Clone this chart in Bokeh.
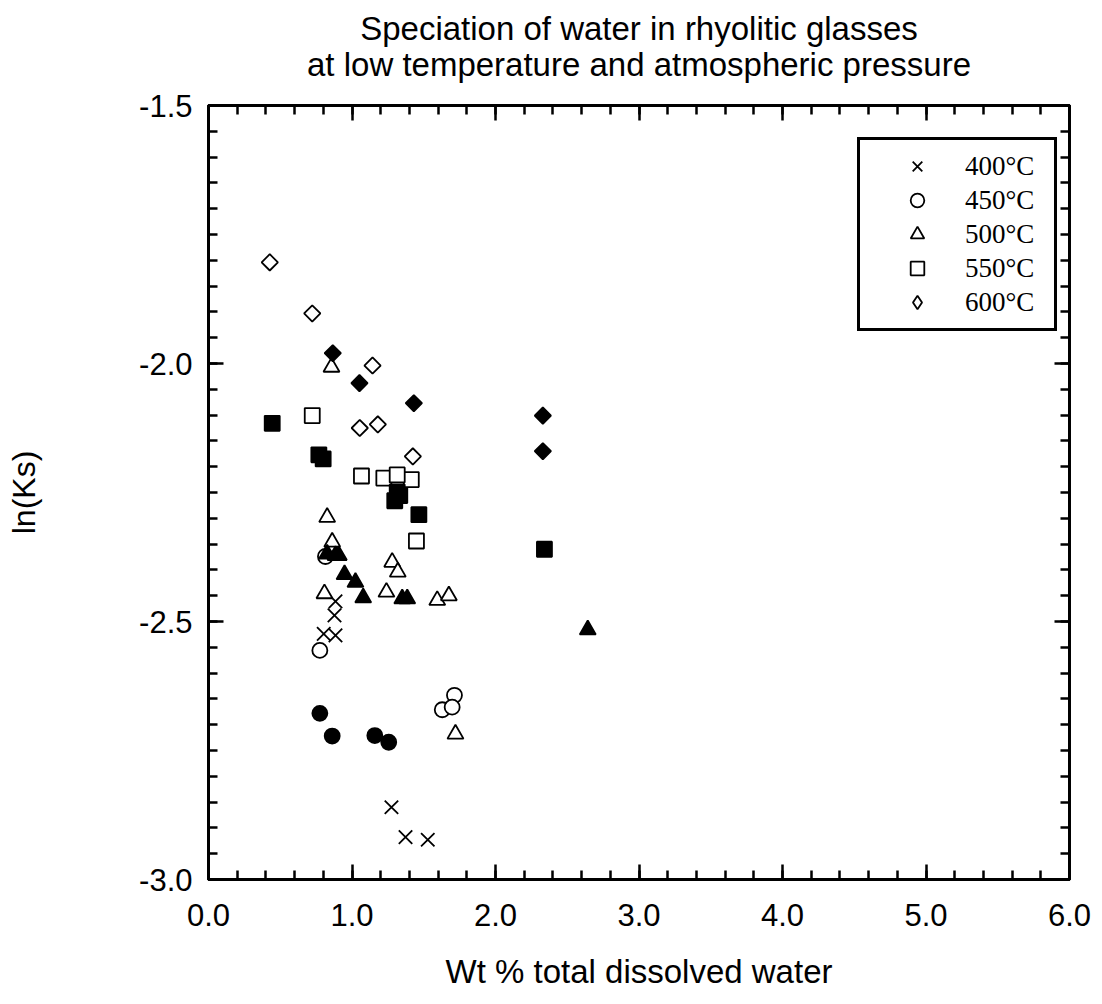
import numpy as np
from bokeh.plotting import figure
from bokeh.models import (Range1d, FixedTicker, LinearAxis, Title, Legend,
                          LegendItem, NumeralTickFormatter, CustomJSTickFormatter)
from bokeh.embed import file_html
from bokeh.resources import INLINE

# ---------------- data (wt% total water, ln(Ks)) ----------------
x_400 = [0.885, 0.878, 0.803, 0.885, 1.275, 1.373, 1.528]
y_400 = [-2.461, -2.488, -2.524, -2.527, -2.860, -2.918, -2.923]

x_450_open = [0.815, 0.776, 1.714, 1.629, 1.698]
y_450_open = [-2.374, -2.556, -2.643, -2.671, -2.666]
x_450_fill = [0.776, 0.862, 1.159, 1.256]
y_450_fill = [-2.678, -2.722, -2.721, -2.734]

x_500_open = [0.857, 0.827, 0.862, 1.280, 1.319, 0.808, 1.240, 1.594, 1.675, 1.721]
y_500_open = [-2.007, -2.298, -2.346, -2.385, -2.404, -2.446, -2.443, -2.459, -2.450, -2.718]
x_500_fill = [0.827, 0.885, 0.908, 0.948, 1.024, 1.078, 1.350, 1.385, 2.643]
y_500_fill = [-2.369, -2.372, -2.372, -2.409, -2.424, -2.454, -2.456, -2.456, -2.516]

x_550_open = [0.723, 1.066, 1.222, 1.413, 1.315, 1.449]
y_550_open = [-2.101, -2.218, -2.222, -2.225, -2.216, -2.344]
x_550_fill = [0.444, 0.769, 0.799, 1.315, 1.298, 1.333, 1.466, 2.341]
y_550_fill = [-2.116, -2.177, -2.185, -2.249, -2.266, -2.256, -2.293, -2.360]

x_600_open = [0.427, 0.723, 1.143, 1.054, 1.180, 1.424]
y_600_open = [-1.804, -1.903, -2.004, -2.125, -2.118, -2.180]
x_600_fill = [0.866, 1.052, 1.431, 2.330, 2.330]
y_600_fill = [-1.980, -2.038, -2.077, -2.101, -2.170]

legend_labels = ["400°C", "450°C", "500°C", "550°C", "600°C"]
x_ticks = [0, 1, 2, 3, 4, 5, 6]
y_ticks = [-3.0, -2.5, -2.0, -1.5]
x_minor = [round(v, 2) for v in np.arange(0, 6.001, 0.2)]
y_minor = [round(v, 2) for v in np.arange(-3.0, -1.499, 0.05)]

title_lines = ["Speciation of water in rhyolitic glasses",
               "at low temperature and atmospheric pressure"]
x_label = "Wt % total dissolved water"
y_label = "ln(Ks)"

SANS = "Liberation Sans"
SERIF = "Liberation Serif"

p = figure(width=1102, height=1004, x_range=Range1d(0, 6), y_range=Range1d(-3.0, -1.5),
           output_backend="svg", toolbar_location=None, title=None,
           min_border_left=208, min_border_right=33, min_border_top=105, min_border_bottom=125)
p.grid.visible = False
p.outline_line_color = "black"
p.outline_line_width = 3
p.background_fill_color = "white"
p.border_fill_color = "white"

xt = FixedTicker(ticks=x_ticks, minor_ticks=x_minor)
yt = FixedTicker(ticks=y_ticks, minor_ticks=y_minor)

top_axis = LinearAxis()
right_axis = LinearAxis()
p.add_layout(top_axis, "above")
p.add_layout(right_axis, "right")

for ax in p.xaxis:
    ax.ticker = xt
for ax in p.yaxis:
    ax.ticker = yt

for ax in p.axis:
    ax.axis_line_width = 3
    ax.axis_line_color = "black"
    ax.major_tick_in = 15
    ax.major_tick_out = 0
    ax.minor_tick_in = 9
    ax.minor_tick_out = 0
    ax.major_tick_line_width = 2.5
    ax.minor_tick_line_width = 2.5
    ax.major_tick_line_color = "black"
    ax.minor_tick_line_color = "black"
    ax.major_label_text_font = SANS
    ax.major_label_text_font_size = "31px"
    ax.major_label_text_color = "black"
    ax.formatter = NumeralTickFormatter(format="0.0")

# mirror axes: ticks only, no labels
for ax in (top_axis, right_axis):
    ax.formatter = CustomJSTickFormatter(code="return ''")
    ax.major_label_text_font_size = "12px"
    ax.major_label_standoff = 0

xa = p.below[0]
xa.axis_label = x_label
xa.axis_label_text_font = SANS
xa.axis_label_text_font_size = "33px"
xa.axis_label_text_font_style = "normal"
xa.axis_label_text_color = "black"
xa.major_label_standoff = 24
xa.axis_label_standoff = 24

ya = p.left[0]
ya.axis_label = y_label
ya.axis_label_text_font = SANS
ya.axis_label_text_font_size = "32px"
ya.axis_label_text_font_style = "normal"
ya.axis_label_text_color = "black"
ya.major_label_standoff = 16
ya.axis_label_standoff = 94

LW = 1.8
# open markers first, filled on top
r400 = p.scatter(x_400, y_400, marker="x", size=19, line_color="black", line_width=LW)
r450 = p.scatter(x_450_open, y_450_open, marker="circle", size=15, fill_color="white",
                 line_color="black", line_width=LW)
r500 = p.scatter(x_500_open, y_500_open, marker="triangle", size=16, fill_color="white",
                 line_color="black", line_width=LW)
r550 = p.scatter(x_550_open, y_550_open, marker="square", size=15, fill_color="white",
                 line_color="black", line_width=LW)
p.scatter(x_600_open, y_600_open, marker="square", angle=np.pi / 4, size=11.5,
          fill_color="white", line_color="black", line_width=LW)

p.scatter(x_450_fill, y_450_fill, marker="circle", size=15, fill_color="black",
          line_color="black", line_width=LW)
p.scatter(x_500_fill, y_500_fill, marker="triangle", size=16, fill_color="black",
          line_color="black", line_width=LW)
p.scatter(x_550_fill, y_550_fill, marker="square", size=15, fill_color="black",
          line_color="black", line_width=LW)
p.scatter(x_600_fill, y_600_fill, marker="square", angle=np.pi / 4, size=11.5,
          fill_color="black", line_color="black", line_width=LW)

# legend swatch for the open diamonds (legend swatches ignore marker angle)
r600 = p.scatter(x=[np.nan], y=[np.nan], marker="diamond", fill_color="white",
                 line_color="black", line_width=LW)

legend = Legend(items=[LegendItem(label=l, renderers=[r])
                       for l, r in zip(legend_labels, [r400, r450, r500, r550, r600])],
                location=(649, 548), margin=0, padding=9, spacing=0,
                glyph_width=96, glyph_height=34, label_height=34, label_width=80,
                label_standoff=0, border_line_color="black", border_line_width=3,
                border_line_alpha=1.0,
                background_fill_color="white", background_fill_alpha=1.0,
                label_text_font=SERIF, label_text_font_size="27px",
                label_text_color="black")
p.add_layout(legend)

# two title lines stacked above the top ticks
t2 = Title(text=title_lines[1], align="center", text_font=SANS, text_font_size="33px",
           text_font_style="normal", text_color="black", standoff=46)
t1 = Title(text=title_lines[0], align="center", text_font=SANS, text_font_size="33px",
           text_font_style="normal", text_color="black", standoff=-52)
p.add_layout(t2, "above")
p.add_layout(t1, "above")

open("out.html", "w").write(file_html(p, INLINE))
